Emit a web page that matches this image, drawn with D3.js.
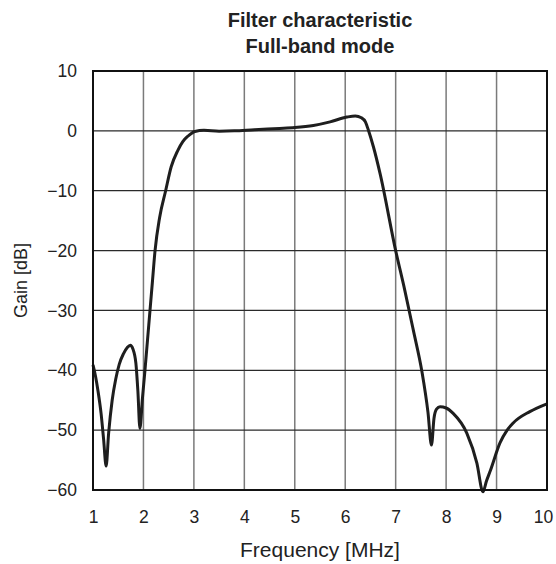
<html>
<head>
  <meta charset="utf-8">
  <title>Filter characteristic</title>
  <script src="https://d3js.org/d3.v7.min.js"></script>
  <style>
    body { margin: 0; background: white; }
    text { font-family: "Liberation Sans", Arial, sans-serif; fill: #222; }
  </style>
</head>
<body>
  <svg id="screen"></svg>

  <script>
    // values
    const freq = [1.00, 1.05, 1.10, 1.16, 1.21, 1.26, 1.31, 1.38, 1.45, 1.52, 1.60, 1.68, 1.74, 1.79, 1.85, 1.89, 1.93,
                  1.98, 2.03, 2.08, 2.13, 2.18, 2.23, 2.32, 2.44, 2.55, 2.68, 2.78, 2.88, 3.02, 3.20, 3.50, 3.80,
                  4.20, 4.70, 5.00, 5.37, 5.70, 6.03, 6.20, 6.32, 6.40, 6.46, 6.56, 6.69, 7.00, 7.18, 7.35, 7.52, 7.64,
                  7.71, 7.76, 7.81, 7.88, 8.00, 8.14, 8.41, 8.61, 8.73, 8.80, 8.88, 9.07, 9.21, 9.33, 9.66, 10.0]
    const gain = [-39.1, -41.0, -43.5, -47.2, -51.5, -56.0, -50.5, -45.0, -41.5, -39.0, -37.3, -36.2, -35.8, -36.4, -38.8, -43.5, -49.7,
                  -44.7, -40.0, -35.0, -30.0, -25.0, -20.0, -14.5, -10.0, -6.0, -3.3, -1.8, -0.9, -0.1, 0.1, -0.05, 0.0,
                  0.2, 0.4, 0.55, 0.9, 1.5, 2.3, 2.5, 2.2, 1.5, 0.1, -2.7, -7.1, -20.0, -26.6, -33.3, -40.2, -47.0,
                  -52.5, -48.0, -46.5, -46.1, -46.3, -47.2, -50.5, -55.5, -60.3, -58.5, -56.7, -52.1, -50.0, -48.8, -46.9, -45.6]

    const xTicks = [1, 2, 3, 4, 5, 6, 7, 8, 9, 10]
    const yTicks = [10, 0, -10, -20, -30, -40, -50, -60]
    const titleLines = ["Filter characteristic", "Full-band mode"]

    let svg = {width: 556, height: 564}
    let margin = {top: 71, bottom: 74, left: 93, right: 9}
    let w = svg.width - margin.left - margin.right
    let h = svg.height - margin.top - margin.bottom

    let frame = d3.select('#screen')
      .attr('width', svg.width)
      .attr('height', svg.height)

    let g = frame.append('g')
      .attr('transform', `translate(${margin.left},${margin.top})`)

    let x = d3.scaleLinear().domain([1, 10]).range([0, w])
    let y = d3.scaleLinear().domain([-60, 10]).range([h, 0])

    // grid lines
    g.selectAll('.vgrid').data(xTicks.slice(1, -1)).enter()
      .append('line')
      .attr('x1', d => x(d)).attr('x2', d => x(d))
      .attr('y1', 0).attr('y2', h)
      .attr('stroke', '#7a7a7a').attr('stroke-width', 1.5)

    g.selectAll('.hgrid').data(yTicks.slice(1, -1)).enter()
      .append('line')
      .attr('x1', 0).attr('x2', w)
      .attr('y1', d => y(d)).attr('y2', d => y(d))
      .attr('stroke', '#2a2a2a').attr('stroke-width', 1.3)

    // tick labels through axes
    let xAxis = g.append('g')
      .attr('transform', `translate(0,${h})`)
      .call(d3.axisBottom(x).tickValues(xTicks).tickSize(0).tickPadding(21).tickFormat(d3.format('d')))
    let yAxis = g.append('g')
      .call(d3.axisLeft(y).tickValues(yTicks).tickSize(0).tickPadding(16).tickFormat(d3.format('d')))
    xAxis.select('.domain').remove()
    yAxis.select('.domain').remove()
    frame.selectAll('.tick text')
      .style('font-size', '17.5px')
      .style('font-family', '"Liberation Sans", Arial, sans-serif')
      .attr('fill', '#222')
    // last label sits a little left so it stays inside the page
    xAxis.selectAll('.tick text').filter(d => d === 10).attr('dx', -4)

    // curve
    let line = d3.line()
      .x((d, i) => x(freq[i]))
      .y(d => y(d))
      .curve(d3.curveMonotoneX)

    g.append('path')
      .datum(gain)
      .attr('d', line)
      .attr('fill', 'none')
      .attr('stroke', '#1e1e1e')
      .attr('stroke-width', 3)
      .attr('stroke-linejoin', 'round')

    // plot border
    g.append('rect')
      .attr('width', w).attr('height', h)
      .attr('fill', 'none')
      .attr('stroke', '#111')
      .attr('stroke-width', 2)

    // title
    frame.selectAll('.title').data(titleLines).enter()
      .append('text')
      .attr('x', 320)
      .attr('y', (d, i) => 27 + i * 26)
      .attr('text-anchor', 'middle')
      .style('font-size', '20px')
      .style('font-weight', 'bold')
      .text(d => d)

    // axis labels
    frame.append('text')
      .attr('x', margin.left + w / 2)
      .attr('y', 557)
      .attr('text-anchor', 'middle')
      .style('font-size', '21px')
      .text('Frequency [MHz]')

    frame.append('text')
      .attr('transform', `translate(27,${margin.top + h / 2}) rotate(-90)`)
      .attr('text-anchor', 'middle')
      .style('font-size', '18px')
      .text('Gain [dB]')
  </script>
</body>
</html>
